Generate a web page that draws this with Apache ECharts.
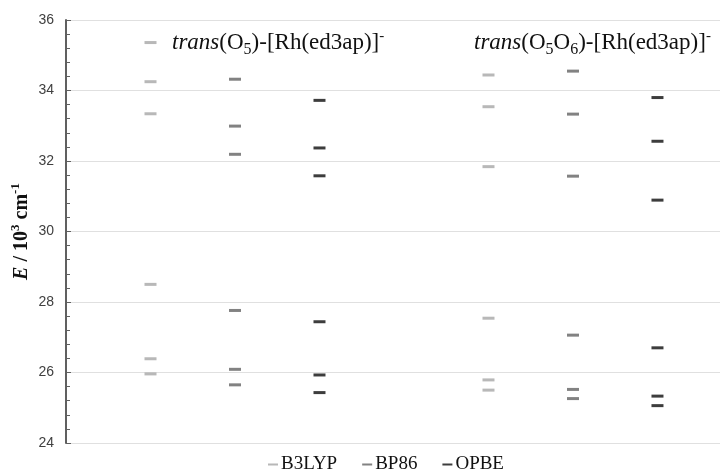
<!DOCTYPE html>
<html>
<head>
<meta charset="utf-8">
<script src="https://cdn.jsdelivr.net/npm/echarts@6/dist/echarts.min.js"></script>
<style>
html, body { margin: 0; padding: 0; background: #fff; }
#main { width: 720px; height: 470px; }
</style>
</head>
<body>
<div id="main"></div>
<script>
// methods (legend) and the two complexes
var methods = ["B3LYP", "BP86", "OPBE"];
var complexes = ["trans(O5)", "trans(O5O6)"];
var yTicks = [24, 26, 28, 30, 32, 34, 36];

// excitation energies, 10^3 cm-1, one list per complex
var b3lyp = [
  [35.36, 34.25, 33.34, 28.50, 26.39, 25.96],
  [34.44, 33.54, 31.84, 27.54, 25.79, 25.50]
];
var bp86 = [
  [34.32, 32.99, 32.19, 27.76, 26.09, 25.65],
  [34.55, 33.33, 31.57, 27.06, 25.52, 25.26]
];
var opbe = [
  [33.72, 32.37, 31.58, 27.44, 25.93, 25.43],
  [33.80, 32.56, 30.89, 26.70, 25.33, 25.06]
];

var colors = ["#a6a6a6", "#636363", "#0d0d0d"];
var serif = "Liberation Serif";

function buildSeries() {
  var all = [b3lyp, bp86, opbe];
  var series = [];
  for (var s = 0; s < methods.length; s++) {
    var pts = [];
    for (var g = 0; g < complexes.length; g++) {
      // column position: 3 columns per complex, one empty slot between
      var x = g * 4 + s + 1;
      all[s][g].forEach(function (v) {
        pts.push([x, v]);
      });
    }
    series.push({
      name: methods[s],
      type: "scatter",
      symbol: "rect",
      symbolSize: [12, 3],
      itemStyle: { color: colors[s] },
      data: pts,
    });
  }
  return series;
}

// sub/superscripts shifted with padding (half the padding moves the glyph)
var titleRich = {
  it: { fontFamily: serif, fontSize: 23, fontStyle: "italic", fontWeight: "normal", lineHeight: 26, color: "#111" },
  n: { fontFamily: serif, fontSize: 23, fontWeight: "normal", lineHeight: 26, color: "#111" },
  sub: { fontFamily: serif, fontSize: 16, fontWeight: "normal", lineHeight: 12, padding: [14, 0, 0, 0], color: "#111" },
  sup: { fontFamily: serif, fontSize: 15, fontWeight: "normal", lineHeight: 10, padding: [0, 0, 14, 0], color: "#111" },
};

var myChart = echarts.init(document.getElementById("main"));
var option = {
  backgroundColor: "#fff",
  animation: false,
  title: [
    {
      text: "{it|trans}{n|(O}{sub|5}{n|)-[Rh(ed3ap)]}{sup|-}",
      left: 172,
      top: 30,
      padding: 0,
      textStyle: { fontWeight: "normal", rich: titleRich },
    },
    {
      text: "{it|trans}{n|(O}{sub|5}{n|O}{sub|6}{n|)-[Rh(ed3ap)]}{sup|-}",
      left: 474,
      top: 30,
      padding: 0,
      textStyle: { fontWeight: "normal", rich: titleRich },
    },
  ],
  legend: {
    data: methods,
    left: 263,
    top: 450,
    itemWidth: 10,
    itemHeight: 2,
    itemGap: 25,
    icon: "rect",
    textStyle: { fontFamily: serif, fontSize: 19, color: "#111", padding: [0, 0, 0, -2] },
  },
  grid: { left: 66, right: 0, top: 20, bottom: 27 },
  xAxis: {
    type: "value",
    min: 0,
    max: 7.74,
    show: false,
  },
  yAxis: {
    type: "value",
    min: yTicks[0],
    max: yTicks[yTicks.length - 1],
    interval: 2,
    name: "{e|E}{n| / 10}{sup|3}{n| cm}{sup|-1}",
    nameLocation: "middle",
    nameGap: 33,
    nameMoveOverlap: false,
    nameTextStyle: {
      rich: {
        e: { fontFamily: serif, fontSize: 20, fontWeight: "bold", fontStyle: "italic", lineHeight: 22, color: "#111" },
        n: { fontFamily: serif, fontSize: 20, fontWeight: "bold", lineHeight: 22, color: "#111" },
        sup: { fontFamily: serif, fontSize: 13, fontWeight: "bold", lineHeight: 9, padding: [0, 0, 12, 0], color: "#111" },
      },
    },
    axisLine: { show: true, lineStyle: { color: "#606060", width: 2 } },
    axisTick: { show: true, inside: true, length: 5, lineStyle: { color: "#606060", width: 1 } },
    minorTick: { show: true, splitNumber: 5, length: 4, lineStyle: { color: "#606060" } },
    splitLine: { show: true, lineStyle: { color: "#e0e0e0", width: 1 } },
    axisLabel: { fontFamily: "Liberation Sans", fontSize: 14, color: "#404040", margin: 12 },
  },
  series: buildSeries(),
};
myChart.setOption(option);
</script>
</body>
</html>
